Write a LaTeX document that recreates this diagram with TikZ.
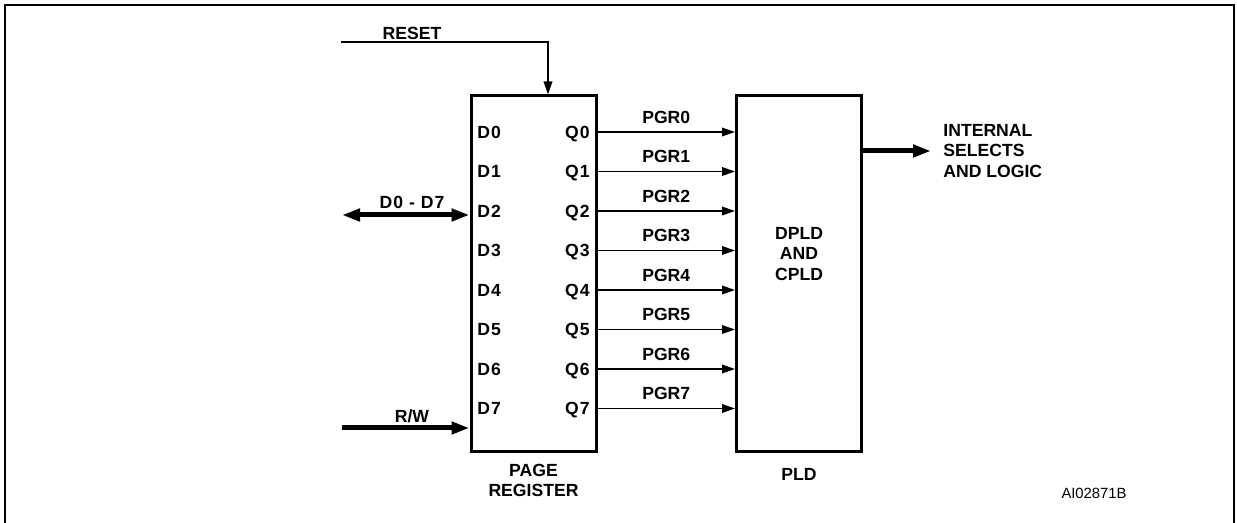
\documentclass[tikz,border=0pt]{standalone}
\usepackage{fontspec}
\setmainfont{Liberation Sans}
\usetikzlibrary{arrows.meta,positioning}

\begin{document}
\begin{tikzpicture}[
  x=0.5pt,y=-0.5pt,
  block/.style={draw=black, line width=1.5pt, minimum width=62.5pt, minimum height=178pt,
    inner sep=0pt},
  pin/.style={font=\fontsize{8.8}{10.25}\selectfont\bfseries\addfontfeatures{LetterSpace=6},
    inner sep=0pt, text height=6.3pt, text depth=0pt},
  lbl/.style={font=\fontsize{8.8}{10.25}\selectfont\bfseries, align=center, inner sep=0pt},
  sig/.style={-{Triangle[length=6.5pt,width=4.3pt]}, line width=0.75pt},
  bus/.style={line width=2.5pt, >={Triangle[length=9pt,width=6pt]}}
]
\useasboundingbox (0,0) rectangle (1237,523);

% Frame, open at the bottom of the page
\draw[line width=1pt] (5,523) -- (5,5) -- (1234,5) -- (1234,523);

% Blocks
\node[block] (preg) at (533.5,274) {};
\node[block] (pld) at (799,274) {};
\node[lbl] at (799,254) {DPLD\\AND\\CPLD};
\node[lbl] (pregname) at (533.5,480.5) {PAGE\\REGISTER};
\node[lbl] (pldname) at (799,474) {PLD};

% Page register inputs
\node[pin, anchor=west] (d0) at (477,132) {D0};
\node[pin, anchor=west] (d1) at (477,171.5) {D1};
\node[pin, anchor=west] (d2) at (477,211) {D2};
\node[pin, anchor=west] (d3) at (477,250.5) {D3};
\node[pin, anchor=west] (d4) at (477,290) {D4};
\node[pin, anchor=west] (d5) at (477,329.5) {D5};
\node[pin, anchor=west] (d6) at (477,369) {D6};
\node[pin, anchor=west] (d7) at (477,408.5) {D7};

% Page register outputs
\node[pin, anchor=east] (q0) at (590,132) {Q0};
\node[pin, anchor=east] (q1) at (590,171.5) {Q1};
\node[pin, anchor=east] (q2) at (590,211) {Q2};
\node[pin, anchor=east] (q3) at (590,250.5) {Q3};
\node[pin, anchor=east] (q4) at (590,290) {Q4};
\node[pin, anchor=east] (q5) at (590,329.5) {Q5};
\node[pin, anchor=east] (q6) at (590,369) {Q6};
\node[pin, anchor=east] (q7) at (590,408.5) {Q7};

% PGR lines into the PLD
\draw[sig] (preg.east |- q0) -- node[lbl, above=4pt] {PGR0} (pld.west |- q0);
\draw[sig] (preg.east |- q1) -- node[lbl, above=4pt] {PGR1} (pld.west |- q1);
\draw[sig] (preg.east |- q2) -- node[lbl, above=4pt] {PGR2} (pld.west |- q2);
\draw[sig] (preg.east |- q3) -- node[lbl, above=4pt] {PGR3} (pld.west |- q3);
\draw[sig] (preg.east |- q4) -- node[lbl, above=4pt] {PGR4} (pld.west |- q4);
\draw[sig] (preg.east |- q5) -- node[lbl, above=4pt] {PGR5} (pld.west |- q5);
\draw[sig] (preg.east |- q6) -- node[lbl, above=4pt] {PGR6} (pld.west |- q6);
\draw[sig] (preg.east |- q7) -- node[lbl, above=4pt] {PGR7} (pld.west |- q7);

% Left side: reset, data bus and R/W
\coordinate (rst) at (341,42);
\coordinate (dbus) at (342,215);
\coordinate (rw) at (342,428);
\node[lbl] (rstname) at (412,33) {RESET};
\node[lbl, font=\fontsize{8.8}{10.25}\selectfont\bfseries\addfontfeatures{LetterSpace=6}] (dbusname) at (412,202) {D0 - D7};
\node[lbl] (rwname) at (412,416) {R/W};
\draw[sig] (rst) -| ([xshift=7.25pt]preg.north);
\draw[bus, <->] (dbus) -- (preg.west |- dbus);
\draw[bus, ->] (rw) -- (preg.west |- rw);

% Right side: PLD output
\coordinate (outend) at (931,151);
\draw[bus, ->] (pld.east |- outend) -- (outend);
\node[lbl, align=left, anchor=west] (outname) at (943,151) {INTERNAL\\SELECTS\\AND LOGIC};

\node[font=\fontsize{7.4}{9}\selectfont, inner sep=0pt] (code) at (1094,493) {AI02871B};

\end{tikzpicture}
\end{document}
